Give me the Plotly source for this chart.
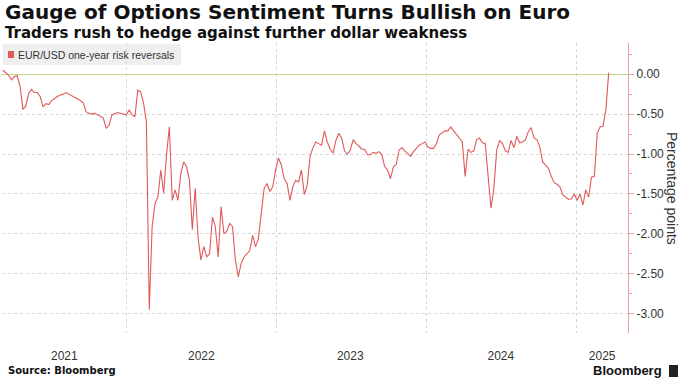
import plotly.graph_objects as go
import pandas as pd

# Weekly observations starting 2021-03-05 (EUR/USD one-year risk reversals, pct points)
start_date = "2021-03-05"
values = [
    0.05, 0.02, -0.01, -0.07, -0.03, -0.02, -0.15, -0.44, -0.40, -0.24,
    -0.19, -0.23, -0.23, -0.28, -0.41, -0.37, -0.38, -0.33, -0.30, -0.28,
    -0.26, -0.25, -0.23, -0.25, -0.26, -0.28, -0.31, -0.33, -0.36, -0.47,
    -0.49, -0.50, -0.49, -0.51, -0.52, -0.55, -0.68, -0.64, -0.51, -0.49,
    -0.48, -0.49, -0.50, -0.51, -0.45, -0.51, -0.53, -0.20, -0.22, -0.36,
    -0.60, -2.95, -1.91, -1.62, -1.54, -1.20, -1.49, -1.01, -0.66, -1.58,
    -1.45, -1.58, -1.24, -1.10, -1.16, -1.33, -1.95, -1.43, -2.05, -2.33,
    -2.16, -2.29, -2.25, -1.79, -1.91, -2.29, -1.66, -2.00, -1.97, -1.87,
    -1.91, -2.33, -2.54, -2.37, -2.29, -2.25, -2.21, -2.02, -2.16, -2.06,
    -1.74, -1.43, -1.37, -1.47, -1.41, -1.20, -1.05, -1.14, -1.31, -1.37,
    -1.58, -1.41, -1.33, -1.35, -1.20, -1.51, -1.39, -1.03, -0.92, -0.85,
    -0.87, -0.89, -0.71, -0.85, -0.94, -0.99, -0.83, -0.74, -0.80, -0.96,
    -1.00, -0.95, -0.82, -0.87, -0.90, -0.94, -0.94, -1.01, -1.01, -0.98,
    -0.99, -0.97, -1.01, -1.16, -1.20, -1.31, -1.16, -1.13, -0.95, -0.92,
    -0.96, -0.99, -1.03, -0.97, -0.93, -0.89, -0.87, -0.85, -0.91, -0.93,
    -0.93, -0.87, -0.76, -0.74, -0.71, -0.71, -0.66, -0.71, -0.75, -0.80,
    -0.85, -1.28, -0.94, -0.98, -0.96, -0.82, -0.80, -0.86, -0.87, -1.24,
    -1.68, -1.43, -0.95, -0.83, -0.87, -0.96, -0.98, -0.83, -0.92, -0.78,
    -0.86, -0.85, -0.82, -0.72, -0.67, -0.80, -0.82, -0.91, -1.10, -1.14,
    -1.18, -1.28, -1.36, -1.38, -1.41, -1.51, -1.54, -1.57, -1.56, -1.50,
    -1.58, -1.50, -1.64, -1.45, -1.54, -1.29, -1.28, -0.74, -0.66, -0.65,
    -0.45, 0.02,
]
dates = pd.date_range(start_date, periods=len(values), freq="7D")

year_labels = ["2021", "2022", "2023", "2024", "2025"]
year_label_pos = ["2021-08-02", "2022-07-02", "2023-06-30", "2024-07-01", "2025-03-05"]
y_ticks = [0, -0.5, -1.0, -1.5, -2.0, -2.5, -3.0]
y_tick_labels = ["0.00", "-0.50", "-1.00", "-1.50", "-2.00", "-2.50", "-3.00"]

series_name = "EUR/USD one-year risk reversals"
title_text = "Gauge of Options Sentiment Turns Bullish on Euro"
subtitle_text = "Traders rush to hedge against further dollar weakness"

RED = "#e05a5a"
AXIS_RED = "#e8a3a3"
FONT = "Liberation Sans"
BOLD_FONT = "DejaVu Sans"

fig = go.Figure()
fig.add_trace(go.Scatter(
    x=dates, y=values, mode="lines", name=series_name,
    line=dict(color=RED, width=1.1), showlegend=False, hoverinfo="skip",
))

fig.update_layout(
    width=688, height=386,
    margin=dict(l=2, r=60, t=43, b=53),
    paper_bgcolor="white", plot_bgcolor="white",
    font=dict(family=FONT, color="#333333"),
    xaxis=dict(
        type="date", range=["2021-03-03", "2025-05-07"],
        tickmode="array", tickvals=year_label_pos, ticktext=year_labels,
        showgrid=False, zeroline=False, showline=False, ticks="",
        tickfont=dict(size=12, color="#333333", family=FONT),
        ticklabelstandoff=14,
        minor=dict(dtick="M12", tick0="2021-01-01", showgrid=True,
                   gridcolor="#d4d4d4", griddash="dot", gridwidth=1, ticks=""),
    ),
    yaxis=dict(
        side="right", range=[-3.243, 0.391],
        tickmode="array", tickvals=y_ticks, ticktext=y_tick_labels,
        showgrid=True, gridcolor="#d4d4d4", griddash="dot", gridwidth=1,
        zeroline=True, zerolinecolor="#c8d88c", zerolinewidth=1,
        showline=True, linecolor=AXIS_RED, linewidth=1,
        ticks="outside", ticklen=5, tickcolor=AXIS_RED,
        tickfont=dict(size=12, color="#333333", family=FONT),
        automargin=False,
        minor=dict(dtick=0.25, tick0=0, ticks="outside", ticklen=3,
                   tickcolor=AXIS_RED, showgrid=False),
    ),
)

shapes = [
    # legend box
    dict(type="rect", xref="paper", yref="paper", x0=0.0016, x1=0.2859,
         y0=0.9241, y1=0.9966, fillcolor="#efefef", line=dict(width=0), layer="below"),
    dict(type="rect", xref="paper", yref="paper", x0=0.0096, x1=0.0192,
         y0=0.9483, y1=0.9724, fillcolor=RED, line=dict(width=0)),
    # Bloomberg icon
    dict(type="rect", xref="paper", yref="paper", x0=1.0655, x1=1.0799,
         y0=-0.1517, y1=-0.1103, fillcolor="#222222", line=dict(width=0)),
]
fig.update_layout(shapes=shapes)

annotations = [
    dict(text="<b>" + title_text + "</b>", xref="paper", yref="paper",
         x=0.0016, y=1.1069, xanchor="left", yanchor="middle", showarrow=False,
         font=dict(size=20, color="#111111", family=BOLD_FONT)),
    dict(text="<b>" + subtitle_text + "</b>", xref="paper", yref="paper",
         x=0.0016, y=1.0345, xanchor="left", yanchor="middle", showarrow=False,
         font=dict(size=15, color="#111111", family=BOLD_FONT)),
    dict(text=series_name, xref="paper", yref="paper",
         x=0.0224, y=0.9603, xanchor="left", yanchor="middle", showarrow=False,
         font=dict(size=10.5, color="#333333", family=FONT)),
    dict(text="Percentage points", xref="paper", yref="paper",
         x=1.0703, y=0.5, xanchor="center", yanchor="middle", showarrow=False,
         textangle=90, font=dict(size=14, color="#333333", family=FONT)),
    dict(text="<b>Source: Bloomberg</b>", xref="paper", yref="paper",
         x=0.0064, y=-0.131, xanchor="left", yanchor="middle", showarrow=False,
         font=dict(size=10, color="#111111", family=BOLD_FONT)),
    dict(text="<b>Bloomberg</b>", xref="paper", yref="paper",
         x=1.0575, y=-0.131, xanchor="right", yanchor="middle", showarrow=False,
         font=dict(size=13, color="#111111", family=FONT)),
]
fig.update_layout(annotations=annotations)

fig.write_html(
    "out.html",
    config={"displayModeBar": False},
    post_script="document.body.style.margin='0';document.body.style.padding='0';",
)
